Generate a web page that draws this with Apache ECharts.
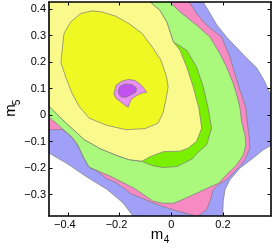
<!DOCTYPE html>
<html><head><meta charset="utf-8">
<script src="https://cdn.jsdelivr.net/npm/echarts@6/dist/echarts.min.js"></script>
<style>html,body{margin:0;padding:0;background:#fff}#c{width:273px;height:248px}</style>
</head><body><div id="c"></div>
<script>
// axis ticks
const xTicks = [-0.4, -0.2, 0, 0.2];
const yTicks = [-0.3, -0.2, -0.1, 0, 0.1, 0.2, 0.3, 0.4];
const xLabelTitle = 'm', xLabelSub = '4';
const yLabelTitle = 'm', yLabelSub = '5';

// contour superlevel sets [m4, m5], outermost first
const level1 = [[-0.55,0.51],[0.111,0.51],[0.119,0.434],[0.150,0.385],[0.177,0.340],[0.214,0.295],[0.281,0.226],[0.332,0.177],[0.359,0.132],[0.382,0.082],[0.459,0],[0.459,-0.087],[0.390,-0.112],[0.356,-0.131],[0.317,-0.162],[0.266,-0.200],[0.227,-0.244],[0.208,-0.282],[0.201,-0.326],[0.199,-0.382],[0.196,-0.472],[-0.121,-0.472],[-0.148,-0.381],[-0.187,-0.331],[-0.249,-0.280],[-0.326,-0.234],[-0.403,-0.183],[-0.473,-0.143],[-0.547,-0.106]];
const level2 = [[-0.55,0.51],[0.053,0.51],[0.066,0.434],[0.098,0.384],[0.137,0.340],[0.195,0.295],[0.227,0.220],[0.246,0.157],[0.266,0.094],[0.279,0.057],[0.289,0.026],[0.294,-0.024],[0.302,-0.087],[0.304,-0.125],[0.285,-0.169],[0.253,-0.206],[0.214,-0.244],[0.182,-0.263],[0.162,-0.282],[0.150,-0.326],[0.137,-0.357],[0.118,-0.371],[0.099,-0.385],[0.085,-0.378],[0.034,-0.365],[-0.031,-0.346],[-0.082,-0.327],[-0.160,-0.295],[-0.176,-0.281],[-0.218,-0.253],[-0.254,-0.238],[-0.287,-0.211],[-0.318,-0.197],[-0.340,-0.160],[-0.361,-0.115],[-0.384,-0.085],[-0.419,-0.055],[-0.473,-0.055],[-0.547,-0.057]];
const level3 = [[-0.55,0.51],[-0.044,0.51],[-0.013,0.434],[0.034,0.390],[0.098,0.340],[0.150,0.295],[0.188,0.233],[0.214,0.182],[0.240,0.120],[0.259,0.057],[0.266,0.026],[0.272,-0.024],[0.285,-0.074],[0.289,-0.112],[0.279,-0.150],[0.253,-0.188],[0.214,-0.225],[0.182,-0.258],[0.150,-0.271],[0.098,-0.295],[0.034,-0.323],[0.008,-0.333],[-0.031,-0.333],[-0.070,-0.325],[-0.121,-0.291],[-0.148,-0.274],[-0.176,-0.260],[-0.237,-0.230],[-0.276,-0.214],[-0.318,-0.196],[-0.340,-0.158],[-0.361,-0.113],[-0.384,-0.083],[-0.424,-0.049],[-0.450,-0.026],[-0.473,-0.008],[-0.547,0.026]];
const level4 = [[-0.55,0.51],[-0.121,0.51],[-0.090,0.434],[-0.044,0.396],[-0.017,0.351],[0.008,0.277],[0.060,0.245],[0.098,0.182],[0.124,0.107],[0.143,0.026],[0.156,-0.049],[0.137,-0.112],[0.104,-0.140],[0.080,-0.166],[0.022,-0.194],[-0.032,-0.198],[-0.071,-0.191],[-0.113,-0.175],[-0.164,-0.168],[-0.214,-0.151],[-0.276,-0.126],[-0.338,-0.091],[-0.423,-0.015],[-0.473,0.034],[-0.547,0.06]];
const level5 = [[-0.55,0.51],[-0.121,0.51],[-0.090,0.434],[-0.044,0.396],[-0.017,0.351],[0.008,0.277],[0.034,0.245],[0.060,0.182],[0.085,0.107],[0.107,0.026],[0.118,-0.049],[0.098,-0.099],[0.065,-0.125],[0.034,-0.136],[-0.031,-0.138],[-0.082,-0.157],[-0.113,-0.174],[-0.164,-0.168],[-0.214,-0.151],[-0.276,-0.126],[-0.338,-0.091],[-0.423,-0.015],[-0.473,0.034],[-0.547,0.06]];
const level6 = [[-0.427,0.200],[-0.415,0.309],[-0.389,0.352],[-0.350,0.384],[-0.306,0.394],[-0.268,0.390],[-0.215,0.374],[-0.164,0.346],[-0.112,0.308],[-0.074,0.258],[-0.040,0.208],[-0.018,0.145],[-0.012,0.107],[-0.021,0.057],[-0.032,0.008],[-0.051,-0.030],[-0.102,-0.051],[-0.176,-0.055],[-0.254,-0.037],[-0.318,-0.011],[-0.357,0.034],[-0.384,0.083],[-0.407,0.140]];
const level7 = [[-0.222,0.080],[-0.214,0.112],[-0.192,0.128],[-0.166,0.135],[-0.140,0.131],[-0.121,0.118],[-0.106,0.102],[-0.095,0.087],[-0.115,0.083],[-0.134,0.074],[-0.153,0.062],[-0.162,0.043],[-0.166,0.030],[-0.179,0.037],[-0.198,0.052],[-0.214,0.064]];
const level8 = [[-0.205,0.093],[-0.198,0.109],[-0.179,0.118],[-0.153,0.116],[-0.134,0.102],[-0.137,0.087],[-0.153,0.078],[-0.175,0.068],[-0.192,0.068],[-0.202,0.078]];

const levels = [level1, level2, level3, level4, level5, level6, level7, level8];
const fills = ['#a0a0f8', '#f78ac2', '#aaf87c', '#7af000', '#fafa8c', '#f0f824', '#e990f2', '#c050f0'];

const chart = echarts.init(document.getElementById('c'), null, {renderer: 'canvas'});
const font = 'Liberation Sans, Arial, sans-serif';
const fmt = v => v === 0 ? '0' : (v < 0 ? '{n|\u2212' + Math.abs(v).toFixed(1) + '}' : v.toFixed(1));
const fmtY = v => v === 0 ? '0' : (v < 0 ? '\u2212' + Math.abs(v).toFixed(1) : v.toFixed(1));

const series = levels.map((poly, i) => ({
  type: 'custom',
  coordinateSystem: 'cartesian2d',
  xAxisIndex: 0, yAxisIndex: 0,
  silent: true,
  clip: true,
  data: [[poly[0][0], poly[0][1]]],
  renderItem: (params, api) => {
    const cs = params.coordSys;
    return {
      type: 'group',
      clipPath: {type: 'rect', shape: {x: cs.x, y: cs.y, width: cs.width, height: cs.height}},
      children: [{
        type: 'polygon',
        shape: {points: poly.map(p => api.coord(p))},
        style: {fill: fills[i], stroke: '#7a7a7a', lineWidth: 0.7}
      }]
    };
  }
}));

const axisCommon = {
  type: 'value',
  z: 10,
  splitLine: {show: false},
  axisLine: {show: true, onZero: false, lineStyle: {color: '#000', width: 1.6}},
  axisTick: {show: true, inside: true, length: 3.5, lineStyle: {color: '#000', width: 1}}
};

chart.setOption({
  animation: false,
  backgroundColor: '#fff',
  grid: {left: 49, right: 2, top: 2, bottom: 32, containLabel: false, outerBoundsMode: 'none'},
  xAxis: [
    Object.assign({}, axisCommon, {position: 'bottom', min: -0.473, max: 0.386,
      axisTick: Object.assign({}, axisCommon.axisTick, {customValues: xTicks}),
      axisLabel: {customValues: xTicks, formatter: fmt, color: '#000', fontSize: 11, fontFamily: font, margin: 3,
        rich: {n: {color: '#000', fontSize: 11, fontFamily: font, padding: [0, 6, 0, 0]}}}}),
    Object.assign({}, axisCommon, {position: 'top', min: -0.473, max: 0.386,
      axisTick: Object.assign({}, axisCommon.axisTick, {customValues: xTicks}),
      axisLabel: {show: false}})
  ],
  yAxis: [
    Object.assign({}, axisCommon, {position: 'left', min: -0.381, max: 0.4275,
      axisTick: Object.assign({}, axisCommon.axisTick, {customValues: yTicks}),
      axisLabel: {customValues: yTicks, formatter: fmtY, color: '#000', fontSize: 11, fontFamily: font, margin: 3}}),
    Object.assign({}, axisCommon, {position: 'right', min: -0.381, max: 0.4275,
      axisTick: Object.assign({}, axisCommon.axisTick, {customValues: yTicks}),
      axisLabel: {show: false}})
  ],
  graphic: [
    {type: 'text', x: 157, y: 234.5, style: {text: xLabelTitle, font: '15px ' + font, fill: '#000', textAlign: 'center', textVerticalAlign: 'middle'}},
    {type: 'text', x: 166.5, y: 240.5, style: {text: xLabelSub, font: '10px ' + font, fill: '#000', textAlign: 'center', textVerticalAlign: 'middle'}},
    {type: 'text', x: 10.5, y: 110.5, rotation: Math.PI / 2, style: {text: yLabelTitle, font: '15px ' + font, fill: '#000', textAlign: 'center', textVerticalAlign: 'middle'}},
    {type: 'text', x: 17, y: 102.5, rotation: Math.PI / 2, style: {text: yLabelSub, font: '10px ' + font, fill: '#000', textAlign: 'center', textVerticalAlign: 'middle'}}
  ],
  series: series
});
</script></body></html>
